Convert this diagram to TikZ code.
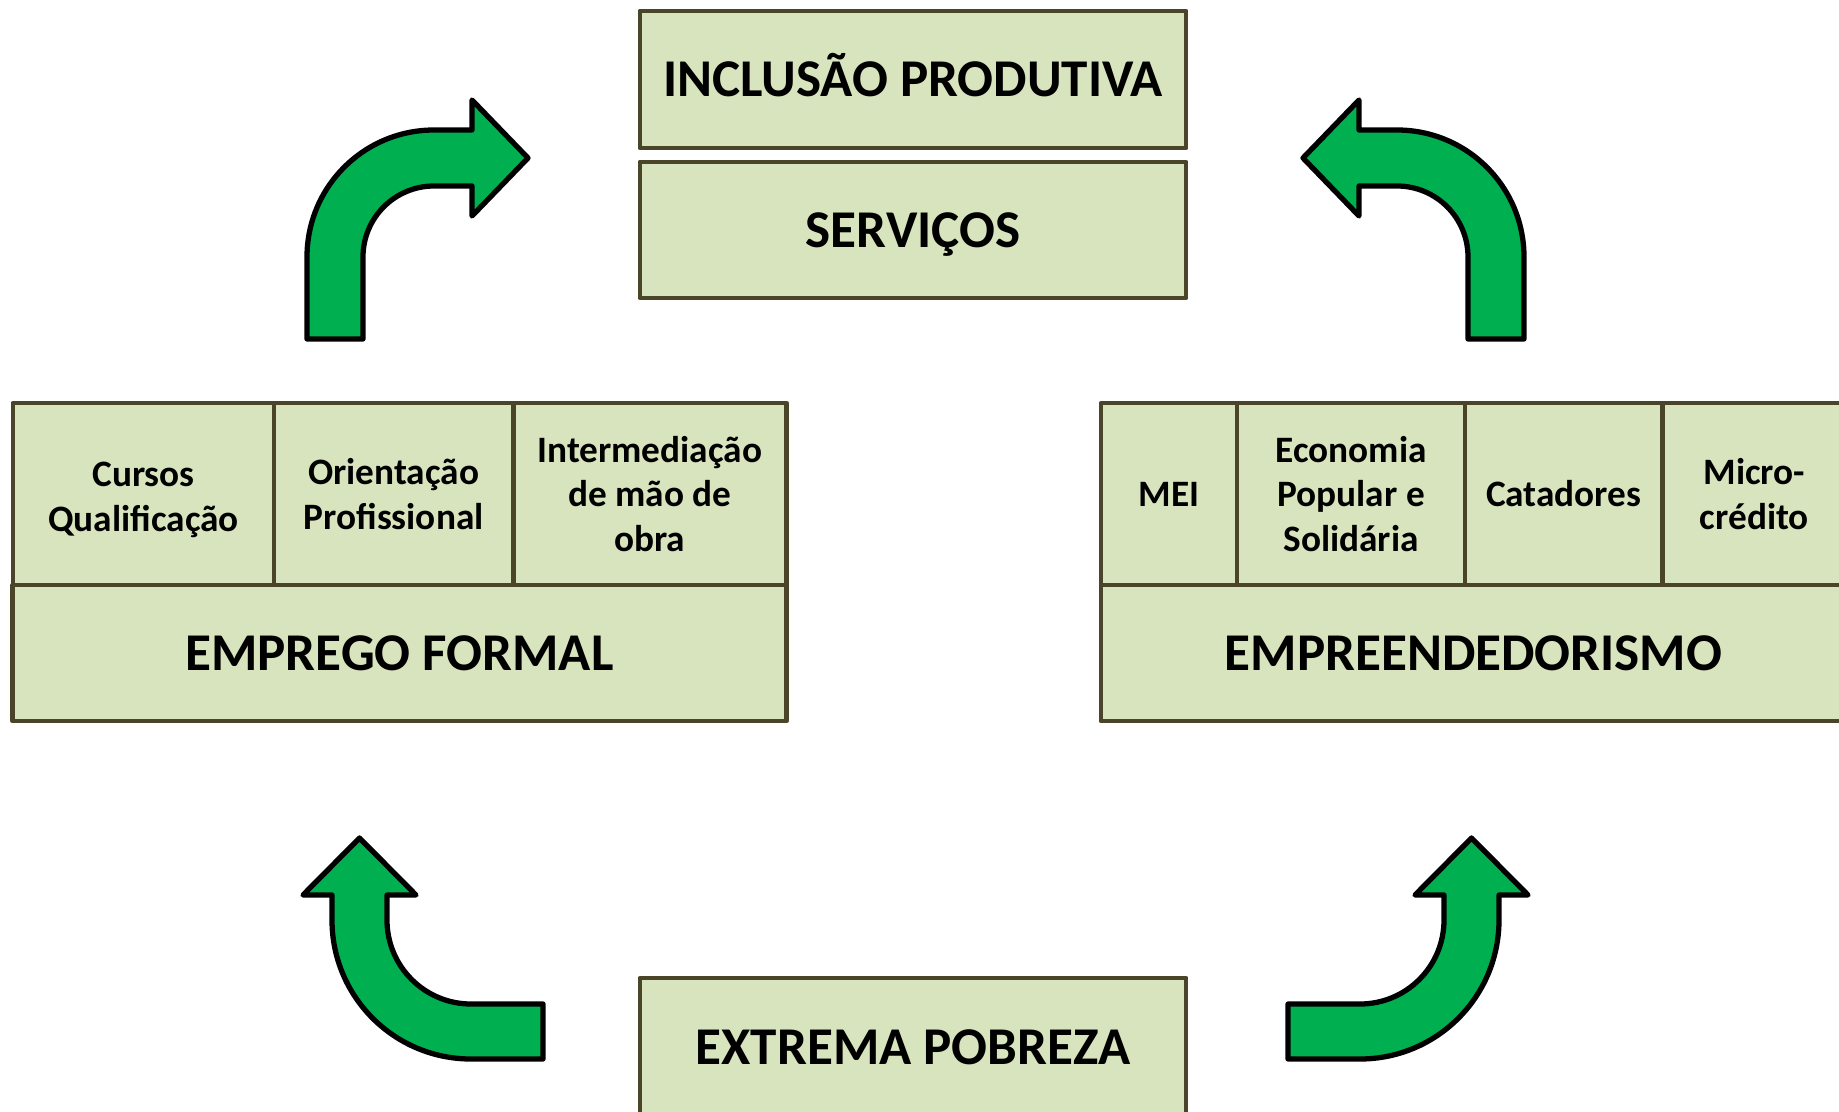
\documentclass[tikz,border=0pt]{standalone}
\usepackage{fontspec}
\setmainfont{Carlito}
\usetikzlibrary{positioning}
\definecolor{boxfill}{HTML}{D7E4BD}
\definecolor{boxline}{HTML}{4A4529}
\definecolor{arrowgreen}{HTML}{00B050}
\begin{document}
\begin{tikzpicture}[x=0.01cm, y=-0.01cm,
	box/.style={draw=boxline, fill=boxfill, line width=1.3pt, line join=round, inner sep=0pt, outer sep=0pt, align=center, font=\bfseries\fontsize{10.6}{12.66}\selectfont},
	titlebox/.style={box, text height=9.7pt, text depth=0pt, font=\bfseries\fontsize{15.1}{18}\selectfont},
	bigarrow/.style={draw=black, fill=arrowgreen, line width=1.5pt, line join=round}]
	\useasboundingbox (0,0) rectangle (1839,1112);
	\clip (0,0) rectangle (1839,1112);
	% top and bottom
	\node[titlebox, minimum width=5.46cm, minimum height=1.37cm] (inclusao) at (913,79.5) {INCLUSÃO PRODUTIVA};
	\node[titlebox, minimum width=5.46cm, minimum height=1.36cm] (servicos) at (913,230) {SERVIÇOS};
	\node[titlebox, minimum width=5.46cm, minimum height=1.38cm] (pobreza) at (913,1047) {EXTREMA POBREZA};
	% emprego formal
	\node[box, minimum width=2.61cm, minimum height=1.82cm] (cursos) at (143.5,494) {};
	\node at ([yshift=-0.06cm]cursos.center) [align=center, font=\bfseries\fontsize{10.6}{12.66}\selectfont] (cursostext) {Cursos\\Qualificação};
	\node[box, minimum width=2.39cm, minimum height=1.82cm, right=0pt of cursos] (orientacao) {Orientação\\Profissional};
	\node[box, minimum width=2.73cm, minimum height=1.82cm, right=0pt of orientacao] (intermed) {Intermediação\\de mão de\\obra};
	\node[titlebox, minimum width=7.73cm, minimum height=1.36cm] (emprego) at (399.5,653) {EMPREGO FORMAL};
	% empreendedorismo
	\node[box, minimum width=1.36cm, minimum height=1.82cm] (mei) at (1169,494) {MEI};
	\node[box, minimum width=2.28cm, minimum height=1.82cm, right=0pt of mei] (economia) {Economia\\Popular e\\Solidária};
	\node[box, minimum width=1.97cm, minimum height=1.82cm, right=0pt of economia] (catadores) {Catadores};
	\node[box, minimum width=1.84cm, minimum height=1.82cm, right=0pt of catadores] (micro) {Micro-\\crédito};
	\node[titlebox, minimum width=7.45cm, minimum height=1.36cm] (empreend) at (1473.5,653) {EMPREENDEDORISMO};
	% arrows
	\draw[bigarrow] (307,339) -- (307,257) arc[start angle=180, end angle=270, radius=127] -- (472,130) -- (472,100) -- (528,158) -- (472,216) -- (472,186) -- (434,186) arc[start angle=270, end angle=180, radius=71] -- (363,339) -- cycle;
	\draw[bigarrow] (1524,339) -- (1524,257) arc[start angle=0, end angle=-90, radius=127] -- (1359,130) -- (1359,100) -- (1303,158) -- (1359,216) -- (1359,186) -- (1397,186) arc[start angle=-90, end angle=0, radius=71] -- (1468,339) -- cycle;
	\draw[bigarrow] (1288,1059) -- (1360,1059) arc[start angle=90, end angle=0, radius=139] -- (1499,895) -- (1528,895) -- (1471.5,838) -- (1415,895) -- (1444,895) -- (1444,920) arc[start angle=0, end angle=90, radius=84] -- (1288,1004) -- cycle;
	\draw[bigarrow] (543,1059) -- (471,1059) arc[start angle=90, end angle=180, radius=139] -- (332,895) -- (303,895) -- (359.5,838) -- (416,895) -- (387,895) -- (387,920) arc[start angle=180, end angle=90, radius=84] -- (471,1004) -- (543,1004) -- cycle;
\end{tikzpicture}
\end{document}
